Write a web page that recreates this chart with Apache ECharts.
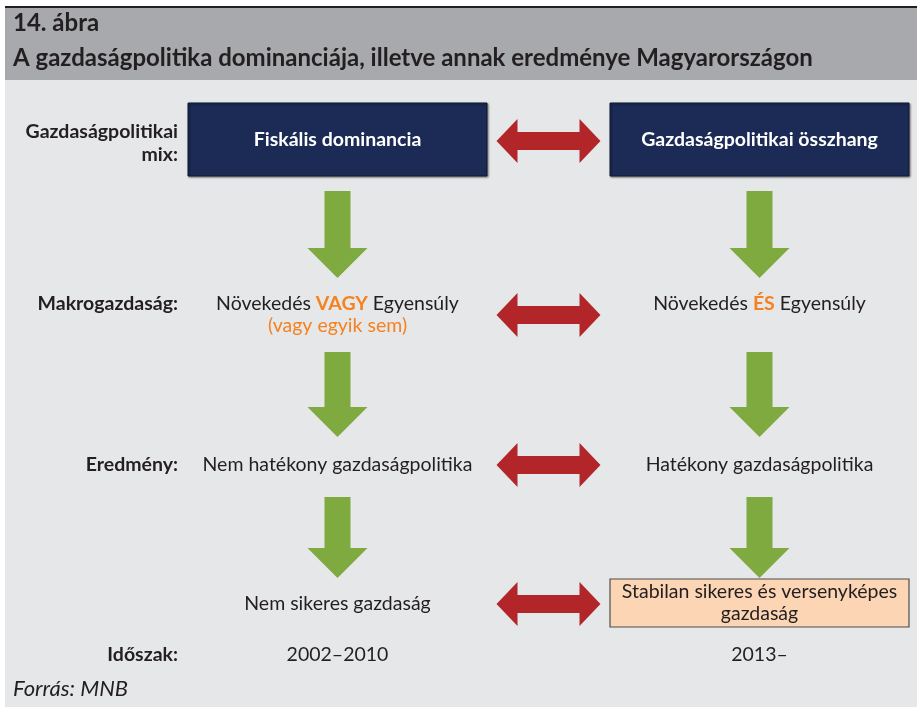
<!DOCTYPE html>
<html>
<head>
<meta charset="utf-8">
<title>14. ábra</title>
<script src="https://cdn.jsdelivr.net/npm/echarts@6/dist/echarts.min.js"></script>
<style>
  html, body { margin: 0; padding: 0; background: #ffffff; }
  #chart { width: 920px; height: 708px; }
</style>
</head>
<body>
<div id="chart"></div>
<script>
// ---- data ----
const titleLines = ['14. ábra', 'A gazdaságpolitika dominanciája, illetve annak eredménye Magyarországon'];
const sourceText = 'Forrás: MNB';
const columns = ['label', 'left', 'link', 'right'];
const rowLabels = ['Gazdaságpolitikai\nmix:', 'Makrogazdaság:', 'Eredmény:', '', 'Időszak:'];
const leftTexts = [
  'Fiskális dominancia',
  'Növekedés {hl|VAGY} Egyensúly\n{note|(vagy egyik sem)}',
  'Nem hatékony gazdaságpolitika',
  'Nem sikeres gazdaság',
  '2002–2010'
];
const rightTexts = [
  'Gazdaságpolitikai összhang',
  'Növekedés {hl|ÉS} Egyensúly',
  'Hatékony gazdaságpolitika',
  'Stabilan sikeres és versenyképes\ngazdaság',
  '2013–'
];
// rows joined by a double arrow, and row pairs joined by a down arrow
const linkedRows = [0, 1, 2, 3];
const flowSteps = [0, 1, 2];

// ---- layout (y axis runs 0..708 top to bottom) ----
const rowY = [140, 304, 465, 604, 655];
const labelY = [143, 304, 465, 604, 655];
const linkY = [141, 315, 465, 604];
const flowSpans = [[191, 278], [352, 437], [497, 578]];
const boxes = { '0-1': 'navy', '0-3': 'navy', '3-3': 'peach' };

const FONT = 'Lato, "Open Sans", sans-serif';
const SIZE = 19.5;
const DARK = '#231f20';
const ORANGE = '#f58220';

const chart = echarts.init(document.getElementById('chart'));

function textFor(col, row) {
  if (col === 0) return rowLabels[row];
  return col === 1 ? leftTexts[row] : rightTexts[row];
}

const textData = [];
rowLabels.forEach((_, r) => {
  [0, 1, 3].forEach(c => { if (textFor(c, r)) textData.push([c, r]); });
});

const boxData = Object.keys(boxes).map(k => k.split('-').map(Number).reverse());

function renderBox(params, api) {
  const col = api.value(0), row = api.value(1);
  const kind = boxes[row + '-' + col];
  const c = api.coord([col, rowY[row]]);
  const band = api.size([1, 0])[0];
  const w = band * 1.417;
  const h = kind === 'navy' ? 73 : 48;
  const cy = kind === 'navy' ? c[1] - 0.5 : c[1] - 1;
  return {
    type: 'rect',
    shape: { x: c[0] - w / 2, y: cy - h / 2, width: w, height: h },
    style: kind === 'navy'
      ? { fill: '#1b2b55', stroke: '#111a33', lineWidth: 1,
          shadowBlur: 2, shadowOffsetX: 1, shadowOffsetY: 1, shadowColor: 'rgba(0,0,0,0.45)' }
      : { fill: '#fcd5b5', stroke: '#4d4d4d', lineWidth: 1.2 }
  };
}

function renderText(params, api) {
  const col = api.value(0), row = api.value(1);
  const text = textFor(col, row);
  const kind = boxes[row + '-' + col];
  if (col === 0) {
    const c = api.coord([1, labelY[row]]);
    const band = api.size([1, 0])[0];
    return {
      type: 'text',
      style: {
        text: text, x: c[0] - band * 0.756, y: c[1],
        align: 'right', verticalAlign: 'middle',
        fontFamily: FONT, fontSize: SIZE, fontWeight: 'bold', lineHeight: 23, fill: DARK
      }
    };
  }
  const c = api.coord([col, rowY[row]]);
  const style = {
    text: text, x: c[0], y: c[1],
    align: 'center', verticalAlign: 'middle',
    fontFamily: FONT, fontSize: SIZE, lineHeight: 22, fill: DARK,
    rich: {
      hl: { fill: ORANGE, fontWeight: 'bold', fontFamily: FONT, fontSize: SIZE, lineHeight: 22 },
      note: { fill: ORANGE, fontFamily: FONT, fontSize: SIZE, lineHeight: 22 }
    }
  };
  if (kind === 'navy') {
    style.fill = '#ffffff';
    style.fontWeight = 'bold';
  } else if (kind === 'peach') {
    style.y = c[1] - 1;
  } else {
    style.verticalAlign = 'top';
    style.y = c[1] - 11;
  }
  return { type: 'text', style: style };
}

function renderLink(params, api) {
  const row = api.value(1);
  const c = api.coord([2, linkY[row]]);
  const x = c[0], y = c[1];
  const L = 52, head = 21, H = 22, s = 9;
  return {
    type: 'polygon',
    shape: { points: [
      [x - L, y], [x - L + head, y - H], [x - L + head, y - s], [x + L - head, y - s],
      [x + L - head, y - H], [x + L, y], [x + L - head, y + H], [x + L - head, y + s],
      [x - L + head, y + s], [x - L + head, y + H]
    ] },
    style: { fill: '#b2262a' }
  };
}

function renderFlow(params, api) {
  const col = api.value(0), step = api.value(1);
  const top = api.coord([col, flowSpans[step][0]]);
  const tip = api.coord([col, flowSpans[step][1]]);
  const x = top[0], y0 = top[1], y1 = tip[1];
  const s = 13, H = 30, head = 30;
  return {
    type: 'polygon',
    shape: { points: [
      [x - s, y0], [x + s, y0], [x + s, y1 - head], [x + H, y1 - head],
      [x, y1], [x - H, y1 - head], [x - s, y1 - head]
    ] },
    style: { fill: '#7eaa3f' }
  };
}

const option = {
  animation: false,
  backgroundColor: '#ffffff',
  title: [
    {
      text: titleLines.join('\n'),
      left: 13, top: 6, padding: 0,
      textStyle: { fontFamily: FONT, fontSize: 24, fontWeight: 'bold', color: DARK, lineHeight: 35 }
    },
    {
      text: sourceText,
      left: 13, top: 678, padding: 0,
      textStyle: { fontFamily: FONT, fontSize: 22, fontStyle: 'italic', fontWeight: 'normal', color: DARK }
    }
  ],
  graphic: [
    { type: 'rect', z: -10, shape: { x: 5, y: 6, width: 912, height: 2 }, style: { fill: '#231f20' } },
    { type: 'rect', z: -10, shape: { x: 5, y: 8, width: 912, height: 72 }, style: { fill: '#a7a9ac' } },
    { type: 'rect', z: -10, shape: { x: 5, y: 80, width: 912, height: 627 }, style: { fill: '#e6e7e8' } }
  ],
  grid: { left: 21, right: 55, top: 0, bottom: 0 },
  xAxis: { type: 'category', data: columns, show: false },
  yAxis: { type: 'value', min: 0, max: 708, inverse: true, show: false },
  series: [
    { type: 'custom', name: 'boxes', renderItem: renderBox, data: boxData, z: 2 },
    { type: 'custom', name: 'links', renderItem: renderLink, data: linkedRows.map(r => [2, r]), z: 2 },
    {
      type: 'custom', name: 'flows', renderItem: renderFlow, z: 2,
      data: flowSteps.flatMap(s => [[1, s], [3, s]])
    },
    { type: 'custom', name: 'texts', renderItem: renderText, data: textData, z: 3 }
  ]
};

chart.setOption(option);
window.addEventListener('resize', () => chart.resize());
</script>
</body>
</html>
